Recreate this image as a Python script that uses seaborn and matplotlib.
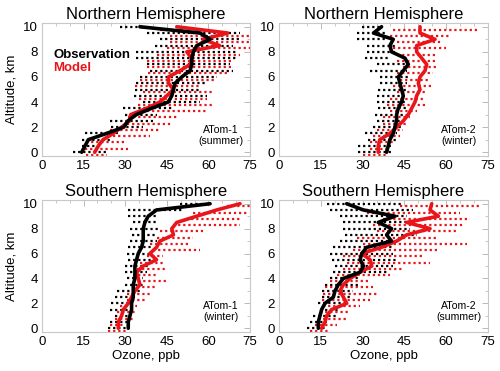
import numpy as np
import matplotlib
matplotlib.use("Agg")
import matplotlib.pyplot as plt
from matplotlib.ticker import MultipleLocator
import seaborn as sns

sns.set_style("white")
plt.rcParams['font.family'] = ['Liberation Sans', 'DejaVu Sans']
plt.rcParams['text.color'] = 'black'
plt.rcParams['axes.labelcolor'] = 'black'
plt.rcParams['xtick.color'] = 'black'
plt.rcParams['ytick.color'] = 'black'

# Altitude levels (km)
alt = [0, 0.5, 1, 1.5, 2, 2.5, 3, 3.5, 4, 4.5, 5, 5.5, 6, 6.5, 7, 7.5, 8, 8.5, 9, 9.5, 10]

# ---- Northern Hemisphere, ATom-1 (summer)
nh1_obs = [14.3, 15.5, 16.7, 23.3, 29.5, 31.0, 34.0, 39.5, 45.5, 46.8, 47.4, 48.0, 50.4, 53.4, 54.0, 54.0, 54.6, 55.8, 60.6, 57.0, 35.3]
nh1_obs_lo = [11.3, 14.3, 14.3, 15.5, 25.0, 24.5, 30.0, 29.3, 36.5, 33.0, 33.5, 34.0, 35.3, 39.0, 37.7, 34.0, 34.0, 40.7, 42.5, 37.7, 28.0]
nh1_obs_hi = [23.3, 20.9, 24.5, 27.5, 36.5, 40.0, 41.3, 47.4, 57.0, 59.4, 57.0, 59.4, 63.0, 69.0, 67.8, 70.0, 70.0, 69.0, 71.4, 71.4, 36.5]
nh1_mod = [19.0, 20.3, 22.0, 25.7, 28.7, 31.5, 32.0, 37.7, 42.5, 45.0, 47.4, 45.6, 45.6, 49.8, 53.4, 54.0, 52.2, 64.0, 58.0, 67.0, 48.6]
nh1_mod_lo = [16.0, 15.5, 16.0, 25.7, 24.5, 30.5, 31.0, 37.7, 34.7, 35.0, 36.5, 33.5, 35.3, 38.3, 37.7, 37.7, 41.3, 45.0, 46.0, 46.0, 42.5]
nh1_mod_hi = [23.3, 31.0, 30.5, 39.0, 42.5, 47.4, 48.6, 59.4, 62.0, 59.4, 62.0, 57.0, 62.0, 66.6, 69.0, 69.0, 71.4, 75.0, 75.0, 75.0, 52.0]

# ---- Northern Hemisphere, ATom-2 (winter)
nh2_obs = [38.6, 39.2, 39.8, 41.0, 41.6, 42.2, 42.2, 42.8, 44.0, 44.6, 44.0, 43.4, 42.8, 44.6, 46.4, 45.2, 40.4, 39.8, 41.0, 33.9, 36.8]
nh2_obs_lo = [28.5, 28.5, 32.0, 30.9, 33.9, 35.0, 34.4, 35.6, 35.0, 35.0, 35.6, 36.2, 36.2, 32.7, 35.0, 30.9, 31.5, 31.5, 27.9, 27.9, 29.7]
nh2_obs_hi = [41.0, 41.0, 42.2, 42.2, 44.0, 43.4, 45.8, 46.4, 45.8, 45.8, 45.8, 45.8, 47.0, 45.8, 45.8, 39.8, 42.2, 42.2, 38.0, 38.0, 37.4]
nh2_mod = [35.6, 35.6, 36.2, 39.8, 42.2, 44.6, 46.4, 47.6, 48.8, 49.4, 50.6, 50.0, 50.6, 52.4, 53.0, 51.2, 49.4, 49.4, 56.0, 50.6, 50.6]
nh2_mod_lo = [30.3, 32.7, 32.7, 33.9, 35.0, 37.4, 37.4, 39.8, 38.6, 39.8, 42.2, 41.0, 43.4, 42.2, 44.6, 42.2, 42.2, 41.0, 42.2, 39.8, 41.0]
nh2_mod_hi = [38.6, 38.6, 41.0, 43.4, 44.6, 45.8, 47.0, 49.4, 53.0, 51.8, 53.0, 54.8, 54.2, 55.4, 56.6, 56.6, 56.6, 60.0, 59.0, 61.4, 71.0]

# ---- Southern Hemisphere, ATom-1 (winter)
sh1_obs = [31.1, 31.1, 31.7, 32.3, 32.3, 32.9, 32.9, 32.9, 33.5, 33.5, 33.5, 34.1, 34.7, 35.9, 36.5, 36.5, 36.5, 37.1, 38.3, 41.3, 60.6]
sh1_obs_lo = [23.9, 24.5, 26.3, 24.5, 25.0, 26.3, 26.9, 30.0, 30.5, 30.0, 30.0, 31.0, 30.5, 31.0, 31.7, 32.3, 31.7, 32.9, 31.0, 31.0, 49.8]
sh1_obs_hi = [30.5, 31.1, 31.1, 32.9, 31.7, 32.9, 35.3, 36.5, 36.5, 37.7, 38.3, 40.0, 39.5, 40.0, 41.3, 41.3, 42.5, 41.3, 41.3, 51.0, 60.6]
sh1_mod = [27.5, 27.5, 28.7, 29.3, 31.1, 32.3, 33.5, 35.3, 34.7, 34.1, 36.5, 41.3, 38.9, 41.3, 42.5, 47.4, 46.8, 48.6, 55.8, 63.0, 71.4]
sh1_mod_lo = [23.9, 24.5, 26.3, 26.9, 28.1, 30.5, 30.5, 32.3, 32.9, 32.9, 34.1, 35.3, 37.7, 40.0, 38.9, 41.3, 42.5, 47.4, 52.0, 54.6, 66.6]
sh1_mod_hi = [31.1, 29.3, 32.9, 34.1, 34.1, 37.7, 39.5, 41.3, 45.0, 41.3, 45.0, 43.8, 43.8, 57.0, 53.4, 54.6, 58.2, 71.4, 71.4, 73.8, 75.0]

# ---- Southern Hemisphere, ATom-2 (summer)
sh2_obs = [14.1, 14.1, 14.7, 15.3, 16.5, 19.5, 20.1, 21.3, 23.1, 29.1, 30.3, 29.1, 29.7, 31.5, 40.4, 38.6, 40.4, 35.6, 41.6, 30.3, 24.3]
sh2_obs_lo = [9.9, 11.1, 12.3, 14.7, 14.1, 15.3, 15.3, 16.5, 18.3, 19.5, 20.1, 18.9, 18.3, 19.5, 21.9, 23.7, 23.1, 23.1, 21.9, 18.3, 17.1]
sh2_obs_hi = [17.1, 17.1, 20.7, 21.9, 24.3, 25.5, 26.7, 29.1, 29.1, 38.6, 41.0, 42.2, 41.0, 41.0, 41.0, 49.4, 47.0, 45.8, 45.8, 48.2, 44.6]
sh2_mod = [15.3, 16.5, 17.1, 18.9, 24.3, 23.1, 21.9, 23.1, 25.5, 29.1, 33.3, 32.7, 29.7, 36.8, 42.2, 45.8, 54.2, 45.8, 57.2, 54.2, 54.8]
sh2_mod_lo = [11.1, 12.9, 14.1, 14.7, 15.9, 15.3, 15.9, 16.5, 18.3, 20.7, 23.1, 24.3, 23.1, 26.7, 30.3, 27.9, 35.0, 33.9, 37.4, 31.5, 43.4]
sh2_mod_hi = [18.3, 20.7, 24.3, 25.5, 29.1, 32.7, 35.0, 33.9, 32.7, 39.8, 44.6, 54.2, 51.8, 56.6, 67.3, 56.6, 63.8, 66.2, 68.5, 65.0, 72.1]

titles = ["Northern Hemisphere", "Northern Hemisphere", "Southern Hemisphere", "Southern Hemisphere"]
labels = ["ATom-1\n(summer)", "ATom-2\n(winter)", "ATom-1\n(winter)", "ATom-2\n(summer)"]
xticks = [0, 15, 30, 45, 60, 75]
yticks = [0, 2, 4, 6, 8, 10]

panels = [
    (nh1_obs, nh1_obs_lo, nh1_obs_hi, nh1_mod, nh1_mod_lo, nh1_mod_hi),
    (nh2_obs, nh2_obs_lo, nh2_obs_hi, nh2_mod, nh2_mod_lo, nh2_mod_hi),
    (sh1_obs, sh1_obs_lo, sh1_obs_hi, sh1_mod, sh1_mod_lo, sh1_mod_hi),
    (sh2_obs, sh2_obs_lo, sh2_obs_hi, sh2_mod, sh2_mod_lo, sh2_mod_hi),
]

RED = '#e8161b'
BLACK = '#000000'

fig = plt.figure(figsize=(5.0, 3.71), dpi=100)
W, H = 500.0, 371.0
boxes = [
    (42, 23, 208, 133), (279, 23, 209, 133),
    (42, 200, 208, 132), (279, 200, 209, 132),
]
axes = []
for (l, t, w, h) in boxes:
    axes.append(fig.add_axes([l / W, 1 - (t + h) / H, w / W, h / H]))

alt_arr = np.array(alt)
for i, ax in enumerate(axes):
    obs, olo, ohi, mod, mlo, mhi = panels[i]
    # spread bars (dotted)
    ax.hlines(alt_arr, olo, ohi, colors=BLACK, linestyles=(0, (1.0, 1.3)), linewidth=1.6, zorder=2)
    ax.hlines(alt_arr - 0.22, mlo, mhi, colors=RED, linestyles=(0, (1.0, 1.3)), linewidth=1.6, zorder=2)
    # mean profiles
    sns.lineplot(x=obs, y=alt, ax=ax, orient='y', sort=False, estimator=None,
                 color=BLACK, linewidth=2.6, zorder=4)
    sns.lineplot(x=mod, y=alt, ax=ax, orient='y', sort=False, estimator=None,
                 color=RED, linewidth=2.6, zorder=3)
    ax.set_xlim(0, 75)
    ax.set_ylim(-0.3, 10.3)
    ax.set_xticks(xticks)
    ax.set_yticks(yticks)
    ax.xaxis.set_minor_locator(MultipleLocator(5))
    ax.yaxis.set_minor_locator(MultipleLocator(1))
    ax.tick_params(which='both', direction='in', top=True, right=True,
                   color='#b0b0b0', labelcolor='black', labelsize=9.5, pad=3)
    ax.tick_params(which='major', length=4, width=0.6)
    ax.tick_params(which='minor', length=2, width=0.5)
    for s in ax.spines.values():
        s.set_color('#c8c8c8')
        s.set_linewidth(0.8)
    ax.set_title(titles[i], fontsize=12, pad=3, color='black')
    ax.text(0.86, 0.155, labels[i], transform=ax.transAxes, ha='center', va='center',
            fontsize=7.6, linespacing=1.2, color='black')
    ax.set_xlabel('')
    ax.set_ylabel('')

axes[0].set_ylabel('Altitude, km', fontsize=9.5, labelpad=4)
axes[2].set_ylabel('Altitude, km', fontsize=9.5, labelpad=4)
axes[2].set_xlabel('Ozone, ppb', fontsize=9.5, labelpad=1)
axes[3].set_xlabel('Ozone, ppb', fontsize=9.5, labelpad=1)

axes[0].text(0.055, 0.76, 'Observation', transform=axes[0].transAxes, color=BLACK,
             fontsize=9.5, fontweight='bold', ha='left', va='center')
axes[0].text(0.055, 0.66, 'Model', transform=axes[0].transAxes, color=RED,
             fontsize=9.5, fontweight='bold', ha='left', va='center')

fig.savefig('out.png', dpi=100)
